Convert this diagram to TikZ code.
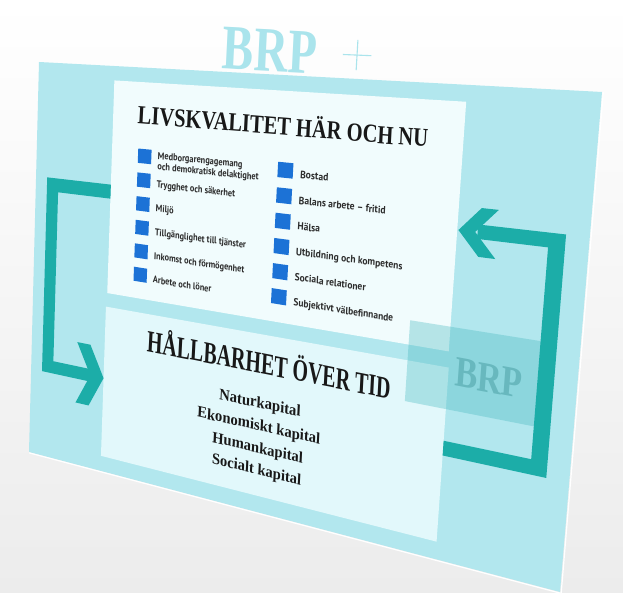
\documentclass[tikz,border=0pt]{standalone}
\usepackage{fontspec}
\usepackage{graphicx}
\newfontfamily\serifb{Liberation Serif}
\newfontfamily\itemfont{PT Sans}
\definecolor{cardc}{RGB}{178,231,238}
\definecolor{brpl}{RGB}{170,228,236}
\definecolor{toppan}{RGB}{241,252,253}
\definecolor{botpan}{RGB}{226,248,251}
\definecolor{tealc}{RGB}{28,173,168}
\definecolor{bluec}{RGB}{28,114,214}
\definecolor{boxc}{RGB}{70,185,192}
\definecolor{brptext}{RGB}{104,184,190}
\definecolor{titlec}{RGB}{24,24,24}
\definecolor{itemc}{RGB}{45,45,45}
\definecolor{bgbot}{RGB}{236,236,236}
% homography: card design space (u in 0..540, v in 0..440, v downward) -> image px
\def\Ha{423.49}\def\Hb{(-8.784)}\def\Hc{39}\def\Hd{8.68}\def\He{408.95}\def\Hf{62}\def\Hg{(-0.23174)}\def\Hh{0.041934}
\def\kcalc#1#2{%
  \pgfmathsetmacro\kkS{(#1)/540}%
  \pgfmathsetmacro\kkT{(#2)/440}%
  \pgfmathsetmacro\kkDen{1+\Hg*\kkS+\Hh*\kkT}%
  \pgfmathsetmacro\kkX{(\Ha*\kkS+\Hb*\kkT+\Hc)/\kkDen}%
  \pgfmathsetmacro\kkY{(\Hd*\kkS+\He*\kkT+\Hf)/\kkDen}}
\def\kparse#1,#2\relax{\kcalc{#1}{#2}\pgfpoint{\kkX pt}{593pt-\kkY pt}}
\tikzdeclarecoordinatesystem{k}{\kparse#1\relax}
\newcommand\ktxt[4][]{%
  \kcalc{#2}{#3}%
  \pgfmathsetmacro\kkA{(\Ha-\Hg*\kkX)/\kkDen/540}%
  \pgfmathsetmacro\kkB{-(\Hd-\Hg*\kkY)/\kkDen/540}%
  \pgfmathsetmacro\kkC{-(\Hb-\Hh*\kkX)/\kkDen/440}%
  \pgfmathsetmacro\kkD{(\He-\Hh*\kkY)/\kkDen/440}%
  \begin{scope}
    \pgftransformcm{\kkA}{\kkB}{\kkC}{\kkD}{\pgfpoint{\kkX pt}{593pt-\kkY pt}}%
    \node[transform shape,inner sep=0pt,#1] at (0,0) {#4};
  \end{scope}}
\newcommand\fitcap[3]{\resizebox{#1pt}{#2pt}{\smash{#3}\rule{0pt}{\fontcharht\font`\H}}}
\newcommand\krect[5]{\fill[#1] (k cs:#2,#3) -- (k cs:#4,#3) -- (k cs:#4,#5) -- (k cs:#2,#5) -- cycle;}
\tikzset{
  titlef/.style={font=\serifb\bfseries, text=titlec},
  capf/.style={font=\serifb\bfseries\fontsize{16.5}{18}\selectfont, text=titlec, xscale=0.91},
  itemf/.style={font=\itemfont\bfseries\fontsize{10.3}{11}\selectfont, text=itemc, anchor=base west, xscale=0.9},
}
\begin{document}
\begin{tikzpicture}[x=1pt,y=1pt]
\useasboundingbox (0,0) rectangle (623,593);
\shade[top color=white, bottom color=bgbot] (0,0) rectangle (623,593);
% card
\fill[cardc] (k cs:0,0) -- (k cs:540,0) -- (k cs:540,440) -- (k cs:0,440) -- cycle;
\draw[white, line width=1.2pt] (k cs:0,441) -- (k cs:541,441) -- (k cs:541,0);
% BRP+ heading
\ktxt[name=brptop, anchor=base, font=\serifb\bfseries, text=brpl]{255.5}{-3}{\fitcap{93}{40}{BRP}}
\draw[brpl, line width=1.1pt] (k cs:325,-22) -- (k cs:351,-22);
\draw[brpl, line width=1.1pt] (k cs:338,-36) -- (k cs:338,-8);
% panels
\krect{toppan}{91}{15}{435}{242}
\krect{botpan}{90}{257}{436}{423}
% transparent BRP box
\fill[boxc, fill opacity=0.35] (k cs:400,219) -- (k cs:510,219) -- (k cs:510,296) -- (k cs:400,296) -- cycle;
\ktxt[name=brpbox, anchor=base, font=\serifb\bfseries, text=brptext]{470}{273}{\fitcap{56}{26}{BRP}}
% left bracket with arrow into the lower panel
\fill[tealc] (k cs:91,125) -- (k cs:14,125) -- (k cs:14,343) -- (k cs:78,343) -- (k cs:78,329) -- (k cs:28,329) -- (k cs:28,140) -- (k cs:91,140) -- cycle;
\fill[tealc] (k cs:57,302) -- (k cs:73,302) -- (k cs:90,336) -- (k cs:73,370) -- (k cs:57,370) -- (k cs:74,336) -- cycle;
% right bracket with arrow into the upper panel
\fill[tealc] (k cs:436,340) -- (k cs:522,340) -- (k cs:522,123) -- (k cs:452,123) -- (k cs:452,136) -- (k cs:509,136) -- (k cs:509,326) -- (k cs:436,326) -- cycle;
\fill[tealc] (k cs:436,130) -- (k cs:454,108) -- (k cs:468,108) -- (k cs:450,130) -- (k cs:468,152) -- (k cs:454,152) -- cycle;
% top title
\ktxt[name=ttop, anchor=base, titlef]{272}{58}{\fitcap{285}{16.5}{LIVSKVALITET HÄR OCH NU}}
% squares
\foreach \i in {0,...,5}{
  \pgfmathsetmacro\vv{84+25*\i}
  \krect{bluec}{121}{\vv}{136}{\vv+15}
  \krect{bluec}{269}{\vv}{284}{\vv+15}
}
% left column
\ktxt[name=l1a, itemf]{143}{93}{Medborgarengagemang}
\ktxt[name=l1b, itemf]{143}{104}{och demokratisk delaktighet}
\ktxt[name=l2, itemf]{143}{123}{Trygghet och säkerhet}
\ktxt[name=l3, itemf]{143}{148}{Miljö}
\ktxt[name=l4, itemf]{143}{173}{Tillgänglighet till tjänster}
\ktxt[name=l5, itemf]{143}{198}{Inkomst och förmögenhet}
\ktxt[name=l6, itemf]{143}{223}{Arbete och löner}
% right column
\ktxt[name=r1, itemf]{291}{98}{Bostad}
\ktxt[name=r2, itemf]{291}{123}{Balans arbete – fritid}
\ktxt[name=r3, itemf]{291}{148}{Hälsa}
\ktxt[name=r4, itemf]{291}{173}{Utbildning och kompetens}
\ktxt[name=r5, itemf]{291}{198}{Sociala relationer}
\ktxt[name=r6, itemf]{291}{223}{Subjektivt välbefinnande}
% bottom panel
\ktxt[name=tbot, anchor=base, titlef]{270}{297}{\fitcap{247}{20.5}{HÅLLBARHET ÖVER TID}}
\ktxt[name=c1, anchor=base, capf]{263}{332}{Naturkapital}
\ktxt[name=c2, anchor=base, capf]{263}{355.5}{Ekonomiskt kapital}
\ktxt[name=c3, anchor=base, capf]{263}{378.5}{Humankapital}
\ktxt[name=c4, anchor=base, capf]{263}{401}{Socialt kapital}
\end{tikzpicture}
\end{document}
